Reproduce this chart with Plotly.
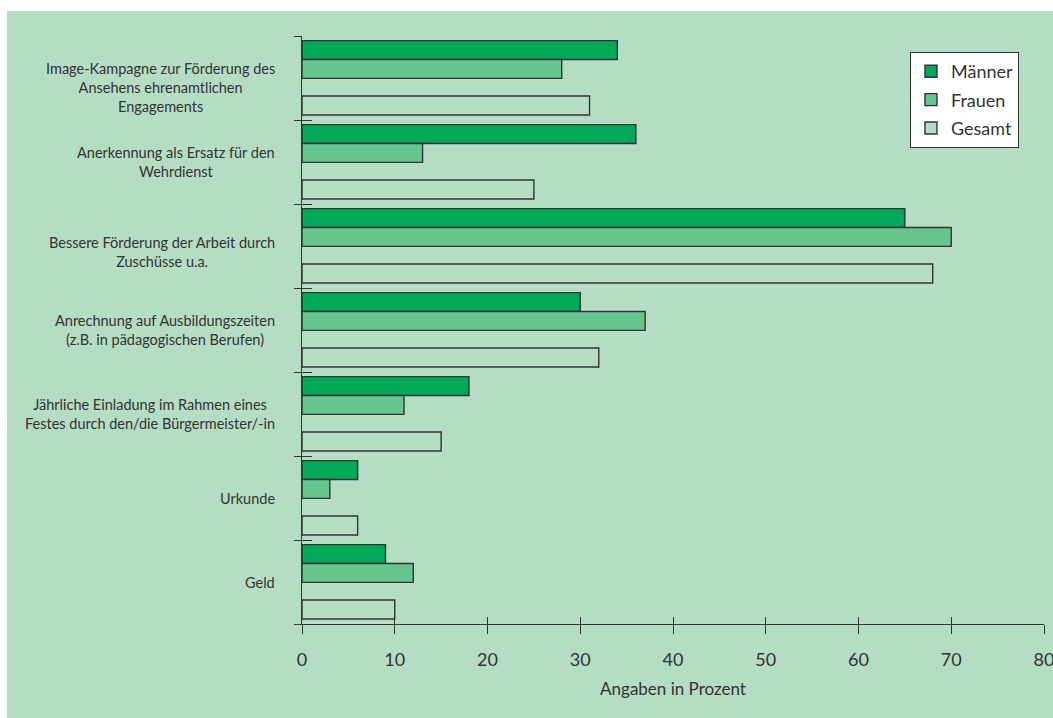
import plotly.graph_objects as go

# Maßnahmen zur Anerkennung ehrenamtlicher Arbeit (Angaben in Prozent)
categories = [
    "Image-Kampagne zur Förderung des<br>Ansehens ehrenamtlichen<br>Engagements",
    "Anerkennung als Ersatz für den<br>Wehrdienst",
    "Bessere Förderung der Arbeit durch<br>Zuschüsse u.a.",
    "Anrechnung auf Ausbildungszeiten<br>(z.B. in pädagogischen Berufen)",
    "Jährliche Einladung im Rahmen eines<br>Festes durch den/die Bürgermeister/-in",
    "Urkunde",
    "Geld",
]
maenner = [34, 36, 65, 30, 18, 6, 9]
frauen = [28, 13, 70, 37, 11, 3, 12]
gesamt = [31, 25, 68, 32, 15, 6, 10]
x_ticks = [0, 10, 20, 30, 40, 50, 60, 70, 80]

BG = "#b4ddc4"
INK = "#333333"
FONT = "Lato"

W, H = 1053, 718
ML, MR, MT, MB = 302, 9, 36, 94
PW, PH = W - ML - MR, H - MT - MB

series = [
    ("Männer", maenner, "#00a859", -0.445),
    ("Frauen", frauen, "#66c48f", -0.22),
    ("Gesamt", gesamt, BG, 0.215),
]

fig = go.Figure()
for name, vals, color, off in series:
    fig.add_trace(go.Bar(
        name=name, legendgroup=name, y=categories, x=vals, orientation="h",
        marker=dict(color=color, line=dict(color=INK, width=1.4)),
        width=0.225, offset=off,
    ))

# empty traces so the overlay axes (second tick set) get drawn
fig.add_trace(go.Scatter(x=[], y=[], xaxis="x", yaxis="y2", showlegend=False, hoverinfo="skip"))
fig.add_trace(go.Scatter(x=[], y=[], xaxis="x2", yaxis="y", showlegend=False, hoverinfo="skip"))

# category labels as centred multi-line text blocks left of the axis
label_shift = [-9, 0, -6, 0, 0, 0, 0]
for cat, dy in zip(categories, label_shift):
    fig.add_annotation(
        x=(277 - ML) / PW, xref="paper", xanchor="right",
        y=cat, yref="y", yshift=dy, align="center", showarrow=False,
        text=cat, font=dict(family=FONT, size=14.5, color=INK),
    )

# white strips at the top and left edge of the page
fig.add_shape(type="rect", xref="paper", yref="paper", layer="below",
              x0=-ML / PW, x1=(W - ML) / PW, y0=(PH + MT - 11) / PH, y1=(PH + MT) / PH,
              fillcolor="white", line_width=0)
fig.add_shape(type="rect", xref="paper", yref="paper", layer="below",
              x0=-ML / PW, x1=(7 - ML) / PW, y0=-MB / PH, y1=(PH + MT) / PH,
              fillcolor="white", line_width=0)

fig.update_layout(
    width=W, height=H,
    margin=dict(l=ML, r=MR, t=MT, b=MB, autoexpand=False),
    paper_bgcolor=BG, plot_bgcolor=BG,
    barmode="overlay",
    font=dict(family=FONT, color=INK),
    showlegend=True,
    legend=dict(
        x=(910 - ML) / PW, y=1 - (52 - MT) / PH, xanchor="left", yanchor="top",
        bgcolor="white", bordercolor=INK, borderwidth=1,
        font=dict(family=FONT, size=18, color=INK),
        itemwidth=30, traceorder="grouped", tracegroupgap=2,
    ),
    xaxis=dict(
        range=[0, 80], tickvals=x_ticks, ticks="outside", ticklen=9,
        tickcolor=INK, tickwidth=1.3, showline=True, linecolor=INK, linewidth=1.3,
        showgrid=False, zeroline=False, automargin=False,
        ticklabeloverflow="allow", ticklabelstandoff=10,
        tickfont=dict(family=FONT, size=18, color=INK),
        title=dict(text="Angaben in Prozent", font=dict(family=FONT, size=17, color=INK), standoff=14),
    ),
    xaxis2=dict(
        overlaying="x", anchor="y", side="bottom", range=[0, 80], tickvals=x_ticks,
        ticks="inside", ticklen=7, tickcolor=INK, tickwidth=1.3, automargin=False,
        showticklabels=False, showgrid=False, zeroline=False, showline=False,
    ),
    yaxis=dict(
        type="category", categoryorder="array", categoryarray=categories,
        range=[len(categories) - 0.5, -0.5], automargin=False,
        tickson="boundaries", ticks="inside", ticklen=10, tickcolor=INK, tickwidth=1.3,
        showticklabels=False, showline=True, linecolor=INK, linewidth=1.3,
        showgrid=False, zeroline=False,
    ),
    yaxis2=dict(
        overlaying="y", anchor="x", side="left", automargin=False,
        range=[len(categories) - 0.5, -0.5], tick0=0.5, dtick=1,
        ticks="outside", ticklen=7, tickcolor=INK, tickwidth=1.3,
        showticklabels=False, showgrid=False, zeroline=False, showline=False,
    ),
)

fig.write_html("out.html")
